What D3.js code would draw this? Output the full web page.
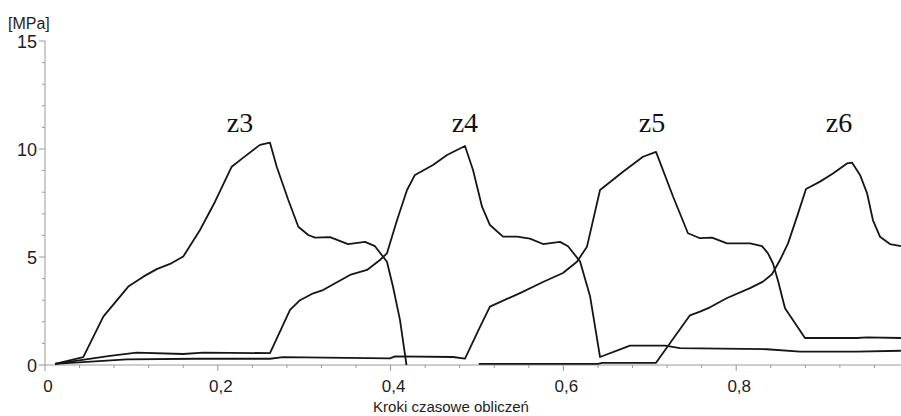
<!DOCTYPE html>
<html>
<head>
<meta charset="utf-8">
<script src="https://cdn.jsdelivr.net/npm/d3@7"></script>
<style>
  html, body { margin: 0; padding: 0; background: #fff; }
  svg { display: block; }
</style>
</head>
<body>
<svg id="chart" width="901" height="416"></svg>
<script>
// ---- data ----
const z3X = [0.0116,0.0443,0.0675,0.0964,0.1138,0.1293,0.1447,0.160,0.1794,0.1968,0.2161,0.2295,0.2488,0.2604,0.2682,0.2816,0.2932,0.3047,0.3125,0.3299,0.3507,0.3704,0.3819,0.3958,0.4028,0.4109,0.4184];
const z3Y = [0.05,0.36,2.24,3.63,4.09,4.44,4.68,5.02,6.25,7.56,9.18,9.6,10.19,10.29,9.18,7.64,6.4,6.02,5.9,5.92,5.6,5.7,5.5,4.78,3.62,2.08,0.0];

const z4X = [0.0116,0.0752,0.1061,0.160,0.1832,0.2604,0.2836,0.2951,0.3105,0.3218,0.353,0.3727,0.3877,0.3958,0.4074,0.419,0.4282,0.4491,0.4653,0.4861,0.4954,0.5058,0.515,0.5301,0.5463,0.5613,0.5764,0.5961,0.6053,0.6192,0.6308,0.6424,0.6771,0.7176,0.735,0.7581,0.8356,0.8738,0.9398,0.9907];
const z4Y = [0.05,0.42,0.57,0.51,0.57,0.55,2.55,3.0,3.32,3.47,4.17,4.4,4.86,5.17,6.7,8.1,8.8,9.26,9.72,10.14,9.03,7.33,6.48,5.94,5.94,5.85,5.6,5.7,5.5,4.8,3.2,0.37,0.9,0.9,0.78,0.77,0.73,0.62,0.62,0.66];

const z5X = [0.0116,0.0946,0.1756,0.2604,0.2755,0.3993,0.4051,0.4722,0.4861,0.5035,0.515,0.5498,0.5764,0.5995,0.6157,0.6273,0.6424,0.669,0.6921,0.7072,0.7269,0.7442,0.7581,0.772,0.7894,0.816,0.8299,0.8368,0.8426,0.8484,0.8565,0.8796,0.9398,0.9514,0.9907];
const z5Y = [0.05,0.26,0.29,0.29,0.36,0.31,0.4,0.37,0.3,1.77,2.7,3.33,3.84,4.26,4.78,5.48,8.1,8.95,9.64,9.87,7.8,6.1,5.87,5.9,5.63,5.63,5.5,5.17,4.7,3.9,2.63,1.25,1.25,1.28,1.25];

const z6X = [0.502,0.64,0.645,0.7072,0.7465,0.7581,0.7697,0.7894,0.816,0.831,0.8414,0.8507,0.86,0.8704,0.8808,0.897,0.912,0.9282,0.934,0.9433,0.9514,0.9583,0.9664,0.978,0.9907];
const z6Y = [0.05,0.05,0.1,0.1,2.3,2.47,2.67,3.1,3.56,3.86,4.2,4.86,5.63,6.87,8.15,8.49,8.87,9.33,9.37,8.8,7.96,6.7,5.94,5.6,5.5];

const seriesNames = ["z3","z4","z5","z6"];
const labelX = [0.2257,0.486,0.7025,0.919];
const labelY = [10.79,10.79,10.79,10.79];

const xTickValues = [0,0.2,0.4,0.6,0.8];
const xTickLabels = ["0","0,2","0,4","0,6","0,8"];
const yTickValues = [0,5,10,15];
const yTickLabels = ["0","5","10","15"];
const yUnit = "[MPa]";
const xTitle = "Kroki czasowe obliczeń";

// ---- chart ----
const svg = d3.select("#chart");
const x = d3.scaleLinear().domain([0,1]).range([45,909]);
const y = d3.scaleLinear().domain([0,15]).range([365,41]);

const axisColor = "#9a9a9a";
const textColor = "#1e1e1e";

// x axis
const gx = svg.append("g").attr("transform", `translate(0,${y(0)})`);
gx.append("line").attr("x1", x(0)).attr("x2", 901).attr("stroke", axisColor).attr("stroke-width", 1);
const xMinor = d3.range(0, 1.001, 0.04).filter(v => [...xTickValues, 1].every(t => Math.abs(t - v) > 1e-6));
gx.selectAll("line.minor").data(xMinor).join("line")
  .attr("class","minor")
  .attr("x1", d => x(d)).attr("x2", d => x(d)).attr("y1", 0).attr("y2", 3)
  .attr("stroke", axisColor);
gx.selectAll("line.major").data(xTickValues).join("line")
  .attr("class","major")
  .attr("x1", d => x(d)).attr("x2", d => x(d)).attr("y1", 0).attr("y2", 6)
  .attr("stroke", axisColor);
gx.selectAll("text").data(xTickValues).join("text")
  .attr("x", d => x(d) + 3).attr("y", 27)
  .attr("text-anchor", "middle")
  .attr("font-family", "Liberation Sans, Arial, sans-serif")
  .attr("font-size", 17)
  .attr("fill", textColor)
  .text((d, i) => xTickLabels[i]);

// y axis
const gy = svg.append("g").attr("transform", `translate(${x(0)},0)`);
gy.append("line").attr("y1", y(0)).attr("y2", y(15)).attr("stroke", axisColor).attr("stroke-width", 1);
const yMinor = d3.range(0, 15.01, 1).filter(v => yTickValues.indexOf(v) < 0);
gy.selectAll("line.minor").data(yMinor).join("line")
  .attr("class","minor")
  .attr("y1", d => y(d)).attr("y2", d => y(d)).attr("x1", -3).attr("x2", 0)
  .attr("stroke", axisColor);
gy.selectAll("line.major").data(yTickValues).join("line")
  .attr("class","major")
  .attr("y1", d => y(d)).attr("y2", d => y(d)).attr("x1", -6).attr("x2", 0)
  .attr("stroke", axisColor);
gy.selectAll("text").data(yTickValues).join("text")
  .attr("x", -8).attr("y", d => y(d) + 2)
  .attr("dominant-baseline", "middle")
  .attr("text-anchor", "end")
  .attr("font-family", "Liberation Sans, Arial, sans-serif")
  .attr("font-size", 18)
  .attr("fill", textColor)
  .text((d, i) => yTickLabels[i]);

svg.append("text").attr("x", 8).attr("y", 29)
  .attr("font-family", "Liberation Sans, Arial, sans-serif")
  .attr("font-size", 16).attr("fill", textColor).text(yUnit);

svg.append("text").attr("x", 451).attr("y", 412)
  .attr("text-anchor", "middle")
  .attr("font-family", "Liberation Sans, Arial, sans-serif")
  .attr("font-size", 15).attr("fill", textColor).text(xTitle);

// lines
const seriesX = [z3X, z4X, z5X, z6X];
const seriesY = [z3Y, z4Y, z5Y, z6Y];
const line = d3.line().x(d => x(d[0])).y(d => y(d[1]));
seriesNames.forEach((name, i) => {
  const pts = seriesX[i].map((v, j) => [v, seriesY[i][j]]);
  svg.append("path").datum(pts)
    .attr("d", line)
    .attr("fill", "none")
    .attr("stroke", "#161616")
    .attr("stroke-width", 1.8)
    .attr("stroke-linejoin", "round");
});

// series labels
svg.selectAll("text.zlab").data(seriesNames).join("text")
  .attr("class", "zlab")
  .attr("x", (d, i) => x(labelX[i])).attr("y", (d, i) => y(labelY[i]))
  .attr("text-anchor", "middle")
  .attr("font-family", "Liberation Serif, Times New Roman, serif")
  .attr("font-size", 28)
  .attr("fill", "#111")
  .text(d => d);
</script>
</body>
</html>
